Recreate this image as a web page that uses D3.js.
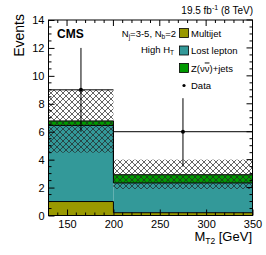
<!DOCTYPE html>
<html>
<head>
<meta charset="utf-8">
<script src="https://cdn.jsdelivr.net/npm/d3@7"></script>
<style>
  html, body { margin: 0; padding: 0; background: #fff; }
  svg { display: block; font-family: 'Liberation Sans', Arial, sans-serif; }
</style>
</head>
<body>
<div id="chart"></div>
<script>
// MT2 distribution, Nj=3-5, Nb=2, high HT

const binEdges   = [130, 200, 350];
const multijet   = [1.0, 0.2];
const lostLepton = [5.45, 2.13];
const zinv       = [0.32, 0.59];
const uncLow     = [4.5, 1.9];
const uncHigh    = [9.0, 4.0];

const dataX      = [165, 275];
const dataY      = [9, 6];
const dataErrLo  = [3, 2.5];
const dataErrHi  = [3, 2.4];

const xTicks = [150, 200, 250, 300, 350];
const yTicks = [0, 2, 4, 6, 8, 10, 12, 14];

const COLORS = { multijet: '#999900', lost: '#339999', zinv: '#009900' };

const W = 266, H = 255;
const x = d3.scaleLinear().domain([130, 350]).range([48.5, 252.5]);
const y = d3.scaleLinear().domain([0, 14]).range([215.5, 20]);

const svg = d3.select('#chart').append('svg')
  .attr('width', W).attr('height', H);

// hatch pattern for the uncertainty band
const defs = svg.append('defs');
const pat = defs.append('pattern')
  .attr('id', 'hatch')
  .attr('patternUnits', 'userSpaceOnUse')
  .attr('width', 6).attr('height', 6);
pat.append('path').attr('d', 'M0,0L6,6M6,0L0,6M-1,5L1,7M5,-1L7,1M-1,1L1,-1M5,7L7,5')
  .attr('stroke', '#222').attr('stroke-width', 0.7).attr('fill', 'none');

const clip = defs.append('clipPath').attr('id', 'frame');
clip.append('rect').attr('x', x(130)).attr('y', y(14))
  .attr('width', x(350) - x(130)).attr('height', y(0) - y(14));

const g = svg.append('g').attr('clip-path', 'url(#frame)');

// stacked histogram
const bins = d3.range(binEdges.length - 1).map(i => {
  const b0 = multijet[i];
  const b1 = b0 + lostLepton[i];
  const b2 = b1 + zinv[i];
  return { x0: binEdges[i], x1: binEdges[i + 1], layers: [
    { key: 'multijet', lo: 0, hi: b0 },
    { key: 'lost', lo: b0, hi: b1 },
    { key: 'zinv', lo: b1, hi: b2 },
  ] };
});

bins.forEach(b => {
  b.layers.forEach(l => {
    g.append('rect')
      .attr('x', x(b.x0)).attr('width', x(b.x1) - x(b.x0))
      .attr('y', y(l.hi)).attr('height', y(l.lo) - y(l.hi))
      .attr('fill', COLORS[l.key]);
  });
});

// histogram outlines (step lines)
['multijet', 'lost', 'zinv'].forEach((key, k) => {
  const pts = [];
  bins.forEach(b => {
    const v = b.layers[k].hi;
    pts.push([x(b.x0), y(v)], [x(b.x1), y(v)]);
  });
  pts.unshift([x(binEdges[0]), y(0)]);
  pts.push([x(binEdges[binEdges.length - 1]), y(0)]);
  g.append('path')
    .attr('d', d3.line()(pts))
    .attr('fill', 'none').attr('stroke', '#000').attr('stroke-width', 1);
});

// uncertainty band
bins.forEach((b, i) => {
  g.append('rect')
    .attr('x', x(b.x0)).attr('width', x(b.x1) - x(b.x0))
    .attr('y', y(uncHigh[i])).attr('height', y(uncLow[i]) - y(uncHigh[i]))
    .attr('fill', 'url(#hatch)');
});

// data points
dataX.forEach((dx, i) => {
  g.append('line')
    .attr('x1', x(binEdges[i])).attr('x2', x(binEdges[i + 1]))
    .attr('y1', y(dataY[i])).attr('y2', y(dataY[i]))
    .attr('stroke', '#000').attr('stroke-width', 1);
  g.append('line')
    .attr('x1', x(dx)).attr('x2', x(dx))
    .attr('y1', y(dataY[i] - dataErrLo[i])).attr('y2', y(dataY[i] + dataErrHi[i]))
    .attr('stroke', '#000').attr('stroke-width', 1);
  g.append('circle')
    .attr('cx', x(dx)).attr('cy', y(dataY[i])).attr('r', 2)
    .attr('fill', '#000');
});

// frame and ticks (inside, all four sides)
const frame = svg.append('g');
frame.append('rect')
  .attr('x', x(130)).attr('y', y(14))
  .attr('width', x(350) - x(130)).attr('height', y(0) - y(14))
  .attr('fill', 'none').attr('stroke', '#000').attr('stroke-width', 1);

const xAxis = d3.axisBottom(x).tickValues(xTicks).tickSize(-6).tickPadding(4.5);
const xAxisG = svg.append('g').attr('transform', `translate(0,${y(0)})`).call(xAxis);
const xMinor = d3.range(140, 350, 10).filter(v => !xTicks.includes(v));
const yMinor = d3.range(0.5, 14, 0.5).filter(v => !yTicks.includes(v));

const yAxis = d3.axisLeft(y).tickValues(yTicks).tickSize(-6).tickPadding(4);
const yAxisG = svg.append('g').attr('transform', `translate(${x(130)},0)`).call(yAxis);

[xAxisG, yAxisG].forEach(a => {
  a.select('.domain').remove();
  a.selectAll('text').attr('font-size', 11).attr('font-family', 'Liberation Sans, Arial, sans-serif').attr('fill', '#000');
});

const tickG = svg.append('g').attr('stroke', '#000').attr('stroke-width', 1);
xTicks.concat(xMinor).forEach(v => {
  const len = xTicks.includes(v) ? 6 : 3;
  tickG.append('line').attr('x1', x(v)).attr('x2', x(v)).attr('y1', y(14)).attr('y2', y(14) + len);
  if (!xTicks.includes(v))
    tickG.append('line').attr('x1', x(v)).attr('x2', x(v)).attr('y1', y(0)).attr('y2', y(0) - len);
});
yTicks.concat(yMinor).forEach(v => {
  const len = yTicks.includes(v) ? 6 : 3;
  tickG.append('line').attr('x1', x(350)).attr('x2', x(350) - len).attr('y1', y(v)).attr('y2', y(v));
  if (!yTicks.includes(v))
    tickG.append('line').attr('x1', x(130)).attr('x2', x(130) + len).attr('y1', y(v)).attr('y2', y(v));
});

// axis titles
svg.append('text')
  .attr('transform', `translate(24,14) rotate(-90)`)
  .attr('text-anchor', 'end')
  .attr('font-size', 14)
  .text('Events');

const xt = svg.append('text')
  .attr('x', 252).attr('y', 240.5)
  .attr('text-anchor', 'end')
  .attr('font-size', 13);
xt.append('tspan').text('M');
xt.append('tspan').attr('font-size', 8.5).attr('dy', 3).text('T2');
xt.append('tspan').attr('dy', -3).text(' [GeV]');

// top right lumi
const lumi = svg.append('text')
  .attr('x', 253).attr('y', 14)
  .attr('text-anchor', 'end')
  .attr('font-size', 10);
lumi.append('tspan').text('19.5 fb');
lumi.append('tspan').attr('font-size', 7).attr('dy', -4).text('-1');
lumi.append('tspan').attr('dy', 4).text(' (8 TeV)');

svg.append('text')
  .attr('x', 57).attr('y', 38)
  .attr('font-size', 12).attr('font-weight', 'bold')
  .text('CMS');

const sel = svg.append('text')
  .attr('x', 176).attr('y', 37)
  .attr('text-anchor', 'end')
  .attr('font-size', 9.5);
sel.append('tspan').text('N');
sel.append('tspan').attr('font-size', 6.5).attr('dy', 2).text('j');
sel.append('tspan').attr('dy', -2).text('=3-5, N');
sel.append('tspan').attr('font-size', 6.5).attr('dy', 2).text('b');
sel.append('tspan').attr('dy', -2).text('=2');

const ht = svg.append('text')
  .attr('x', 174).attr('y', 53)
  .attr('text-anchor', 'end')
  .attr('font-size', 9.5);
ht.append('tspan').text('High H');
ht.append('tspan').attr('font-size', 6.5).attr('dy', 2).text('T');

// legend
const legendItems = [
  { label: ['Multijet'], color: COLORS.multijet },
  { label: ['Lost lepton'], color: COLORS.lost },
  { label: ['Z(ν', 'ν', ')+jets'], color: COLORS.zinv },
  { label: ['Data'], color: null },
];
const leg = svg.append('g');
legendItems.forEach((d, i) => {
  const cy = 33 + i * 17.5;
  if (d.color) {
    leg.append('rect')
      .attr('x', 179.5).attr('y', cy - 4.5)
      .attr('width', 9).attr('height', 9)
      .attr('fill', d.color).attr('stroke', '#000').attr('stroke-width', 0.8);
  } else {
    leg.append('circle').attr('cx', 184).attr('cy', cy).attr('r', 1.6).attr('fill', '#000');
  }
  const t = leg.append('text')
    .attr('x', 191).attr('y', cy + 3.5)
    .attr('font-size', 9.5);
  d.label.forEach((s, j) => {
    t.append('tspan').text(s)
      .style('text-decoration', j === 1 ? 'overline' : null);
  });
});
</script>
</body>
</html>
